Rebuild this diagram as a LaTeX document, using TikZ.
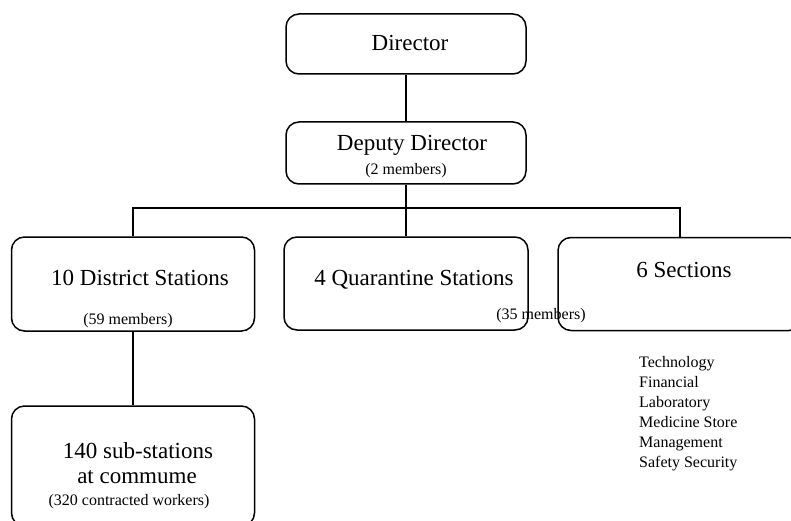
\documentclass[tikz,border=0pt]{standalone}
\usepackage{fontspec}
\setmainfont{Liberation Serif}
\begin{document}
\begin{tikzpicture}[x=1pt,y=-1pt,
  orgbox/.style={draw=black, line width=1.5pt, rounded corners=13pt, inner sep=0pt},
  bigtxt/.style={anchor=base, inner sep=0pt, font=\fontsize{23}{27}\selectfont},
  smalltxt/.style={anchor=base, inner sep=0pt, font=\fontsize{16}{19}\selectfont},
  listtxt/.style={anchor=base west, inner sep=0pt, font=\fontsize{16}{19}\selectfont},
  conn/.style={line width=1.5pt}]
\useasboundingbox (0,0) rectangle (791,521);
\clip (0,0) rectangle (791,521);
% boxes
\node[orgbox, minimum width=240pt, minimum height=60pt] (dir) at (406,44) {};
\node[orgbox, minimum width=240pt, minimum height=62pt] (dep) at (406,153) {};
\node[orgbox, minimum width=243pt, minimum height=94pt] (dist) at (133,284) {};
\node[orgbox, minimum width=244pt, minimum height=93pt] (quar) at (406,283.5) {};
\node[orgbox, minimum width=244pt, minimum height=93pt] (sect) at (680,284) {};
\node[orgbox, minimum width=243pt, minimum height=120pt] (sub) at (133,466) {};
% texts
\node[bigtxt] (tdir) at (410,51) {Director};
\node[bigtxt] (tdep) at (412,151) {Deputy Director};
\node[smalltxt] (tdepm) at (406,175) {(2 members)};
\node[bigtxt] (tdist) at (140,285) {10 District Stations};
\node[smalltxt] (tdistm) at (128,324) {(59 members)};
\node[bigtxt] (tquar) at (414,285) {4 Quarantine Stations};
\node[smalltxt] (tquarm) at (541,319) {(35 members)};
\node[bigtxt] (tsect) at (684,277) {6 Sections};
\node[bigtxt] (tsub1) at (138,458) {140 sub-stations};
\node[bigtxt] (tsub2) at (137,483) {at commume};
\node[smalltxt] (tsub3) at (129,505) {(320 contracted workers)};
\node[listtxt] (l1) at (639,367) {Technology};
\node[listtxt] (l2) at (639,387) {Financial};
\node[listtxt] (l3) at (639,407) {Laboratory};
\node[listtxt] (l4) at (639,427) {Medicine Store};
\node[listtxt] (l5) at (639,447) {Management};
\node[listtxt] (l6) at (639,467) {Safety Security};
% connectors
\coordinate (bus) at (406,208);
\draw[conn] (dir.south) -- (dep.north);
\draw[conn] (dep.south) -- (bus);
\draw[conn] (bus) -- (quar.north);
\draw[conn] (dist.north) |- (bus);
\draw[conn] (sect.north) |- (bus);
\draw[conn] (dist.south) -- (sub.north);
\end{tikzpicture}
\end{document}
